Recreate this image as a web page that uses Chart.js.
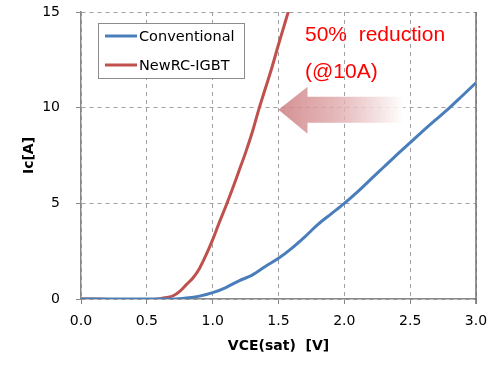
<!DOCTYPE html>
<html>
<head>
<meta charset="utf-8">
<script src="https://cdn.jsdelivr.net/npm/chart.js@4/dist/chart.umd.min.js"></script>
<style>
  html, body { margin: 0; padding: 0; background: #fff; }
  #wrap { width: 500px; height: 371px; }
</style>
</head>
<body>
<div id="wrap"><canvas id="chart" width="500" height="371"></canvas></div>
<script>
// VCE(sat) sample points [V]
const vceConv = [0.0, 0.1, 0.2, 0.3, 0.4, 0.5, 0.6, 0.7, 0.8, 0.9, 1.0, 1.1, 1.2, 1.3, 1.4, 1.5,
                 1.6, 1.7, 1.8, 1.9, 2.0, 2.1, 2.2, 2.3, 2.4, 2.5, 2.6, 2.7, 2.8, 2.9, 3.0];
const icConv  = [0.0, 0.0, 0.0, 0.0, 0.0, 0.0, 0.0, 0.0, 0.05, 0.15, 0.33, 0.6, 0.95, 1.25, 1.7, 2.13,
                 2.65, 3.25, 3.9, 4.45, 5.0, 5.6, 6.25, 6.9, 7.55, 8.17, 8.8, 9.4, 10.0, 10.65, 11.3];

const vceNew = [0.0, 0.1, 0.2, 0.3, 0.4, 0.5, 0.6, 0.65, 0.7, 0.75, 0.8, 0.85, 0.9, 0.95, 1.0,
                1.05, 1.1, 1.15, 1.2, 1.25, 1.3, 1.35, 1.4, 1.45, 1.5, 1.55, 1.6];
const icNew  = [0.0, 0.0, -0.02, -0.05, -0.05, -0.05, 0.02, 0.08, 0.17, 0.4, 0.75, 1.1, 1.6, 2.3, 3.1,
                4.0, 4.85, 5.75, 6.7, 7.65, 8.7, 9.9, 11.0, 12.1, 13.3, 14.45, 15.6];

const seriesNames = ['Conventional', 'NewRC-IGBT'];
const xTicks = [0.0, 0.5, 1.0, 1.5, 2.0, 2.5, 3.0];
const yTicks = [0, 5, 10, 15];

const BLUE = '#4a7ebb';
const RED = '#c0504d';
const GRID = '#a0a0a0';

function toPoints(xs, ys) {
  return xs.map((x, i) => ({ x: x, y: ys[i] }));
}

// legend drawn as a framed box inside the plot
const boxLegend = {
  id: 'boxLegend',
  afterDraw(chart) {
    const ctx = chart.ctx;
    const x0 = 98, y0 = 23, w = 146, h = 55;
    ctx.save();
    ctx.fillStyle = '#fff';
    ctx.fillRect(x0, y0, w, h);
    ctx.strokeStyle = '#8c8c8c';
    ctx.lineWidth = 1;
    ctx.strokeRect(x0 + 0.5, y0 + 0.5, w, h);
    ctx.font = '14.5px "DejaVu Sans"';
    ctx.textBaseline = 'middle';
    chart.data.datasets.forEach((ds, i) => {
      const yy = y0 + 13 + i * 29;
      ctx.strokeStyle = ds.borderColor;
      ctx.lineWidth = 3;
      ctx.beginPath();
      ctx.moveTo(x0 + 7, yy);
      ctx.lineTo(x0 + 39, yy);
      ctx.stroke();
      ctx.fillStyle = '#000';
      ctx.fillText(ds.label, x0 + 41, yy + 1);
    });
    ctx.restore();
  }
};

// reduction arrow and note
const note = {
  id: 'note',
  afterDatasetsDraw(chart) {
    const ctx = chart.ctx;
    const xs = chart.scales.x, ys = chart.scales.y;
    const tipX = xs.getPixelForValue(1.5), tipY = ys.getPixelForValue(10) + 2;
    const headX = tipX + 29, endX = tipX + 125;
    const grad = ctx.createLinearGradient(tipX, 0, endX, 0);
    grad.addColorStop(0, 'rgba(205,125,128,0.85)');
    grad.addColorStop(0.45, 'rgba(222,165,167,0.8)');
    grad.addColorStop(1, 'rgba(255,255,255,0.9)');
    ctx.save();
    ctx.fillStyle = grad;
    ctx.beginPath();
    ctx.moveTo(tipX, tipY);
    ctx.lineTo(headX, tipY - 23);
    ctx.lineTo(headX, tipY - 13);
    ctx.lineTo(endX, tipY - 13);
    ctx.lineTo(endX, tipY + 13);
    ctx.lineTo(headX, tipY + 13);
    ctx.lineTo(headX, tipY + 24);
    ctx.closePath();
    ctx.fill();

    ctx.fillStyle = '#ff0000';
    ctx.font = '21px "Liberation Sans"';
    ctx.textBaseline = 'middle';
    ctx.fillText('50%  reduction', 305, 35);
    ctx.fillText('(@10A)', 305, 72);

    // solid frame on the right
    ctx.strokeStyle = '#707070';
    ctx.lineWidth = 1.5;
    ctx.beginPath();
    ctx.moveTo(chart.chartArea.right, chart.chartArea.top);
    ctx.lineTo(chart.chartArea.right, chart.chartArea.bottom + 5);
    ctx.stroke();
    ctx.restore();
  }
};

new Chart(document.getElementById('chart'), {
  type: 'line',
  data: {
    datasets: [
      {
        label: seriesNames[0],
        data: toPoints(vceConv, icConv),
        borderColor: BLUE,
        borderWidth: 3,
        pointRadius: 0,
        cubicInterpolationMode: 'monotone'
      },
      {
        label: seriesNames[1],
        data: toPoints(vceNew, icNew),
        borderColor: RED,
        borderWidth: 3,
        pointRadius: 0,
        cubicInterpolationMode: 'monotone'
      }
    ]
  },
  options: {
    responsive: false,
    animation: false,
    layout: { padding: { left: 0, right: 24, top: 0, bottom: 0 } },
    plugins: { legend: { display: false }, tooltip: { enabled: false } },
    scales: {
      x: {
        type: 'linear',
        min: 0, max: 3,
        afterBuildTicks: (s) => { s.ticks = xTicks.map(v => ({ value: v })); },
        afterFit: (s) => { s.height = 72; },
        ticks: {
          color: '#000',
          font: { family: 'DejaVu Sans', size: 14 },
          padding: 9,
          callback: (v) => Number(v).toFixed(1)
        },
        grid: { color: GRID, tickColor: '#888', tickLength: 5, tickBorderDash: [] },
        border: { color: '#888', width: 1.5, dash: [4, 4] },
        title: {
          display: true,
          text: 'VCE(sat)  [V]',
          color: '#000',
          font: { family: 'DejaVu Sans', size: 14, weight: 'bold' },
          padding: { top: 0, bottom: 16 }
        }
      },
      y: {
        min: 0, max: 15,
        afterBuildTicks: (s) => { s.ticks = yTicks.map(v => ({ value: v })); },
        afterFit: (s) => { s.width = 81; s.paddingTop = 12; s.paddingBottom = 0; },
        ticks: {
          color: '#000',
          font: { family: 'DejaVu Sans', size: 14 },
          padding: 16
        },
        grid: { color: GRID, tickColor: '#888', tickLength: 5, tickBorderDash: [] },
        border: { color: '#888', width: 1.5, dash: [4, 4] },
        title: {
          display: true,
          text: 'Ic[A]',
          color: '#000',
          font: { family: 'DejaVu Sans', size: 14, weight: 'bold' },
          padding: { top: 21, bottom: 0 }
        }
      }
    }
  },
  plugins: [note, boxLegend]
});
</script>
</body>
</html>
